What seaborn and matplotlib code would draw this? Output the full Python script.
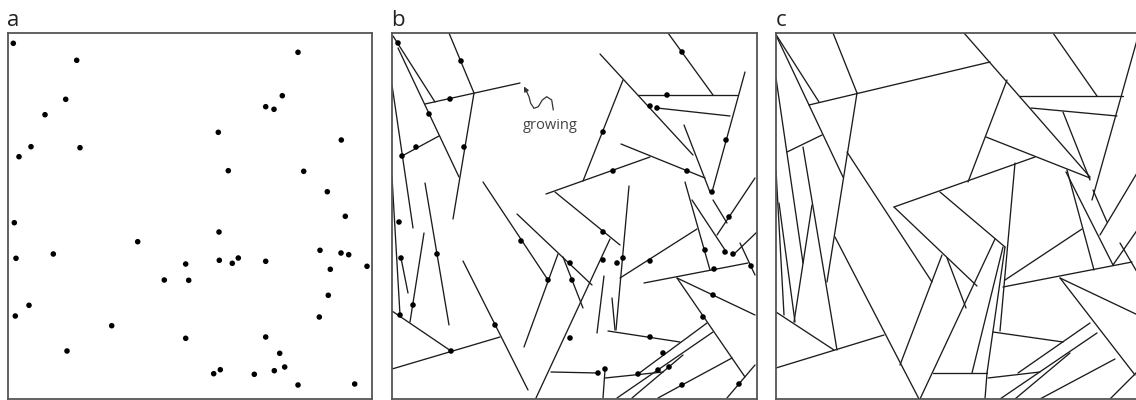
import numpy as np
import pandas as pd
import matplotlib
matplotlib.use("Agg")
import matplotlib.pyplot as plt
import seaborn as sns

sns.set_theme(style="white")
plt.rcParams["font.family"] = ["Open Sans", "DejaVu Sans"]

# ---------------- data (image-pixel coordinates of each panel) ----------------
panel_labels = ["a", "b", "c"]

# panel a: seed points
a_x = [13.3, 76.7, 65.7, 45, 31, 19, 80, 218.3, 228.3, 298, 282.3, 265.7, 274, 341.3, 303.7, 327.3,
       14.3, 345.3, 137.7, 219, 16, 53.3, 185.7, 219.3, 232.3, 238.3, 265.7, 320, 341, 348.7, 367,
       330.3, 164.3, 188.7, 328.3, 29, 15.3, 319.3, 111.7, 185.7, 265.7, 67, 279.7, 284.7, 220.3,
       213.7, 254.3, 274.3, 298, 354.7]
a_y = [43.3, 60.3, 99.3, 114.7, 146.7, 156.7, 147.7, 132.3, 170.7, 52.3, 95.7, 106.7, 109.3, 140, 171.3, 191.7,
       222.7, 216.3, 241.7, 232, 258.3, 254, 264, 260.3, 263.3, 258, 261.3, 250.3, 253, 254.7, 266.3,
       269.3, 280, 280.3, 295.3, 305.3, 316, 317, 325.7, 338.3, 337, 351, 353.3, 367, 369.7,
       373.7, 374.3, 370.7, 385, 384]

# panel b: growing cracks (x0, y0, x1, y1) and their seed dots
b_segments = [
    (393, 36, 435, 102), (398, 48, 459, 177), (449, 33, 474, 93), (474, 93, 453, 219),
    (425, 104, 520, 83), (402, 156, 439, 136), (392, 85, 413, 228), (425, 183, 449, 325),
    (483, 182, 548, 280), (558, 254, 524, 347), (463, 261, 528, 390), (392, 311, 451, 351),
    (392, 369, 500, 337), (424, 233, 410, 322), (392, 177, 400, 315), (401, 258, 408, 293),
    (610, 239, 536, 398), (629, 186, 616, 330), (604, 276, 597, 333), (612, 298, 615, 330),
    (620, 278, 697, 229), (685, 182, 710, 270), (644, 283, 748, 263), (677, 278, 755, 315),
    (677, 278, 745, 377), (608, 331, 680, 342), (551, 372, 598, 373), (605, 370, 603, 398),
    (605, 378, 663, 372), (638, 374, 707, 323), (617, 398, 713, 332), (632, 398, 683, 355),
    (658, 398, 732, 358), (727, 398, 755, 365), (740, 243, 755, 275), (668, 33, 713, 95),
    (600, 54, 693, 155), (638, 95, 737, 95), (657, 108, 730, 116), (745, 72, 712, 192),
    (623, 80, 583, 181), (546, 194, 650, 157), (621, 144, 705, 178), (684, 125, 710, 192),
    (755, 178, 717, 235), (555, 192, 620, 245), (517, 214, 592, 285), (563, 257, 583, 308),
    (692, 200, 727, 253), (757, 232, 733, 255), (713, 200, 727, 223),
]
b_dot_x = [398, 461, 450, 429, 416, 402, 464, 682, 667, 650, 657, 603, 726, 613, 687, 712,
           399, 401, 437, 413, 400, 451, 495, 521, 548, 570, 572, 570, 603, 603, 617, 623,
           650, 705, 725, 733, 729, 714, 751, 713, 703, 650, 663, 669, 658, 638, 598, 605,
           682, 739]
b_dot_y = [43, 61, 99, 114, 147, 156, 147, 52, 95, 106, 108, 132, 140, 171, 171, 192,
           222, 258, 254, 305, 315, 351, 325, 241, 280, 263, 280, 338, 232, 260, 263, 258,
           261, 250, 252, 254, 217, 269, 266, 295, 317, 337, 353, 367, 370, 374, 373, 369,
           385, 384]

# panel c: final tessellation (x0, y0, x1, y1)
c_segments = [
    (775, 33, 819, 102), (775, 33, 843, 177), (833, 33, 857, 93), (809, 105, 990, 62),
    (857, 93, 827, 282), (787, 152, 822, 135), (776, 78, 803, 263), (803, 147, 837, 350),
    (812, 205, 794, 322), (776, 170, 784, 315), (779, 203, 795, 322), (776, 312, 834, 350),
    (776, 368, 884, 335), (835, 237, 919, 399), (847, 152, 932, 282), (942, 255, 900, 365),
    (894, 207, 977, 286), (947, 258, 966, 308), (894, 207, 1035, 157), (940, 192, 1005, 247),
    (995, 239, 920, 399), (1015, 163, 1000, 331), (1005, 247, 987, 373), (1003, 247, 972, 373),
    (993, 332, 1063, 342), (933, 373, 987, 373), (987, 373, 985, 399), (988, 378, 1040, 372),
    (1018, 373, 1090, 323), (1000, 399, 1097, 333), (1015, 399, 1070, 353), (1040, 399, 1115, 359),
    (1110, 399, 1140, 369), (1005, 280, 1082, 229), (1003, 287, 1132, 262), (1060, 278, 1140, 316),
    (1060, 278, 1135, 375), (1067, 170, 1094, 270), (1066, 172, 1113, 265), (1093, 190, 1107, 222),
    (1140, 168, 1100, 235), (1140, 226, 1113, 265), (1120, 243, 1140, 277), (1053, 33, 1097, 96),
    (964, 33, 1090, 177), (1019, 96, 1123, 96), (1031, 108, 1117, 116), (1139, 33, 1092, 200),
    (1007, 80, 968, 182), (986, 137, 1090, 178), (1063, 112, 1090, 180),
]

# "growing" annotation squiggle (panel b)
squiggle_x = [553.3, 551.7, 546.7, 542.3, 538.3, 534.0, 530.7, 529.0, 526.7]
squiggle_y = [110.0, 100.0, 96.7, 100.0, 106.7, 108.3, 103.3, 96.7, 91.7]


def seg_frame(segs):
    rows = []
    for i, (x0, y0, x1, y1) in enumerate(segs):
        rows.append((i, x0, y0))
        rows.append((i, x1, y1))
    return pd.DataFrame(rows, columns=["seg", "x", "y"])


# ---------------- figure ----------------
W, H = 1136, 400
fig = plt.figure(figsize=(W / 100, H / 100), dpi=100)
top, bottom, size = 32.7, 399.0, 365.0
lefts = [7.5, 392.0, 776.0]
line_color = "#1c1c1c"

axes = []
for lab, left in zip(panel_labels, lefts):
    ax = fig.add_axes([left / W, 1 - bottom / H, size / W, (bottom - top) / H])
    ax.set_xlim(left, left + size)
    ax.set_ylim(bottom, top)
    ax.set_xticks([])
    ax.set_yticks([])
    for sp in ax.spines.values():
        sp.set_visible(True)
        sp.set_color("#555555")
        sp.set_linewidth(1.3)
    fig.text((left - 0.5) / W, 1 - 26 / H, lab, fontsize=16, ha="left", va="baseline",
             color="#222222")
    axes.append(ax)

ax_a, ax_b, ax_c = axes

# panel a
sns.scatterplot(x=a_x, y=a_y, ax=ax_a, color="black", s=16, edgecolor="none", legend=False)

# panel b
sns.lineplot(data=seg_frame(b_segments), x="x", y="y", units="seg", estimator=None, sort=False,
             color=line_color, lw=0.95, ax=ax_b, legend=False)
sns.scatterplot(x=b_dot_x, y=b_dot_y, ax=ax_b, color="black", s=16, edgecolor="none",
                legend=False, zorder=5)
ax_b.text(550, 125, "growing", fontsize=10.5, ha="center", va="center", color="#444444")
ax_b.plot(squiggle_x, squiggle_y, color="#333333", lw=0.9)
ax_b.annotate("", xy=(524.0, 86.5), xytext=(squiggle_x[-1], squiggle_y[-1]),
              arrowprops=dict(arrowstyle="-|>", color="#333333", lw=0.9,
                              mutation_scale=7, shrinkA=0, shrinkB=0))

# panel c
sns.lineplot(data=seg_frame(c_segments), x="x", y="y", units="seg", estimator=None, sort=False,
             color=line_color, lw=0.95, ax=ax_c, legend=False)

for ax in axes:
    ax.set_xlabel("")
    ax.set_ylabel("")

fig.savefig("out.png", dpi=100)
